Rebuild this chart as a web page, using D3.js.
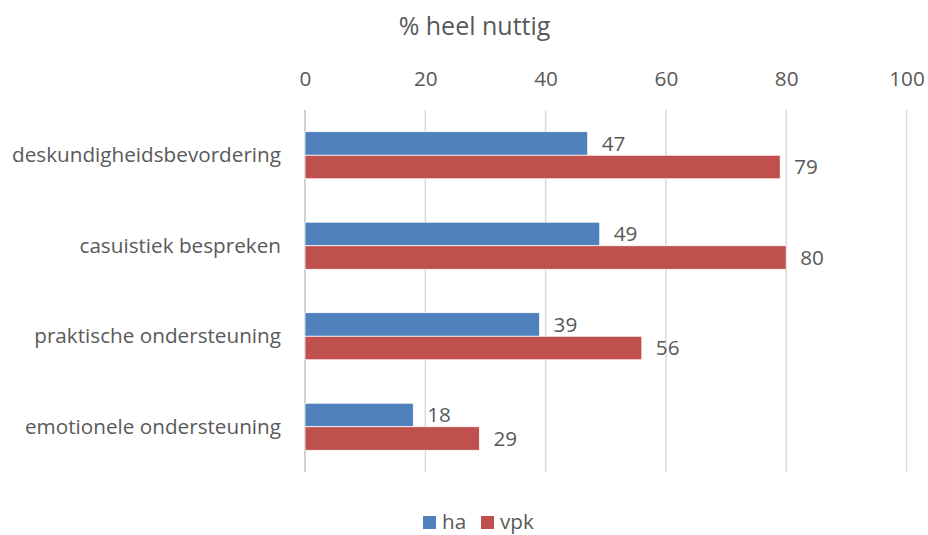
<!DOCTYPE html>
<html>
<head>
<meta charset="utf-8">
<script src="https://cdn.jsdelivr.net/npm/d3@7"></script>
<style>
  html, body { margin: 0; padding: 0; background: #fff; }
  svg { display: block; font-family: "Open Sans", "Noto Sans", sans-serif; }
</style>
</head>
<body>
<svg id="chart" width="928" height="535"></svg>
<script>
// Share of respondents rating each form of support as "heel nuttig"
const categories = [
  "deskundigheidsbevordering",
  "casuistiek bespreken",
  "praktische ondersteuning",
  "emotionele ondersteuning"
];
const seriesNames = ["ha", "vpk"];
const haValues = [47, 49, 39, 18];
const vpkValues = [79, 80, 56, 29];
const tickValues = [0, 20, 40, 60, 80, 100];
const colors = ["#4f81bd", "#c0504d"];
const title = "% heel nuttig";

const svg = d3.select("#chart");
const textColor = "#595959";
const labelSize = 20.7;

const plotLeft = 305, plotRight = 906.5, plotTop = 110, plotBottom = 472;

const x = d3.scaleLinear().domain([0, 100]).range([plotLeft, plotRight]);
const y = d3.scaleBand().domain(categories).range([plotTop, plotBottom]).paddingInner(0.48).paddingOuter(0.24);
const ySub = d3.scaleBand().domain(seriesNames).range([0, y.bandwidth()]);

// Title
svg.append("text")
  .attr("x", 474.5).attr("y", 35)
  .attr("text-anchor", "middle")
  .attr("fill", textColor)
  .attr("font-size", 25)
  .text(title);

// Vertical gridlines
svg.append("g")
  .selectAll("line")
  .data(tickValues)
  .join("line")
  .attr("x1", d => x(d)).attr("x2", d => x(d))
  .attr("y1", plotTop).attr("y2", plotBottom)
  .attr("stroke", d => d === 0 ? "#d0d0d0" : "#d9d9d9")
  .attr("stroke-width", d => d === 0 ? 2 : 1.5);

// Top axis labels
const axis = svg.append("g")
  .attr("transform", `translate(0,${plotTop - 24})`)
  .call(d3.axisTop(x).tickValues(tickValues).tickSize(0).tickPadding(0));
axis.select(".domain").remove();
axis.selectAll("text")
  .attr("fill", textColor)
  .attr("font-size", labelSize)
  .attr("font-family", "\"Open Sans\", sans-serif");

// Category labels
svg.append("g")
  .selectAll("text")
  .data(categories)
  .join("text")
  .attr("x", 281)
  .attr("y", d => y(d) + y.bandwidth() / 2)
  .attr("dy", "0.35em")
  .attr("text-anchor", "end")
  .attr("fill", textColor)
  .attr("font-size", labelSize)
  .text(d => d);

// Bars
const rows = categories.map((c, i) => ({
  category: c,
  values: [
    { series: "ha", value: haValues[i], color: colors[0] },
    { series: "vpk", value: vpkValues[i], color: colors[1] }
  ]
}));

const groups = svg.append("g")
  .selectAll("g")
  .data(rows)
  .join("g")
  .attr("transform", d => `translate(0,${y(d.category)})`);

groups.selectAll("rect")
  .data(d => d.values)
  .join("rect")
  .attr("x", x(0))
  .attr("y", d => ySub(d.series))
  .attr("width", d => x(d.value) - x(0))
  .attr("height", ySub.bandwidth())
  .attr("fill", d => d.color)
  .attr("stroke", "#ffffff")
  .attr("stroke-width", 0.75);

groups.selectAll("text")
  .data(d => d.values)
  .join("text")
  .attr("x", d => x(d.value) + 14)
  .attr("y", d => ySub(d.series) + ySub.bandwidth() / 2)
  .attr("dy", "0.35em")
  .attr("fill", textColor)
  .attr("font-size", labelSize)
  .text(d => d.value);

// Legend
const legend = svg.append("g").attr("transform", "translate(423,516)");
const legendX = [0, 58];
seriesNames.forEach((name, i) => {
  const g = legend.append("g").attr("transform", `translate(${legendX[i]},0)`);
  g.append("rect").attr("width", 13).attr("height", 13).attr("fill", colors[i]);
  g.append("text")
    .attr("x", 19).attr("y", 6.5)
    .attr("dy", "0.33em")
    .attr("fill", textColor)
    .attr("font-size", labelSize)
    .text(name);
});
</script>
</body>
</html>
